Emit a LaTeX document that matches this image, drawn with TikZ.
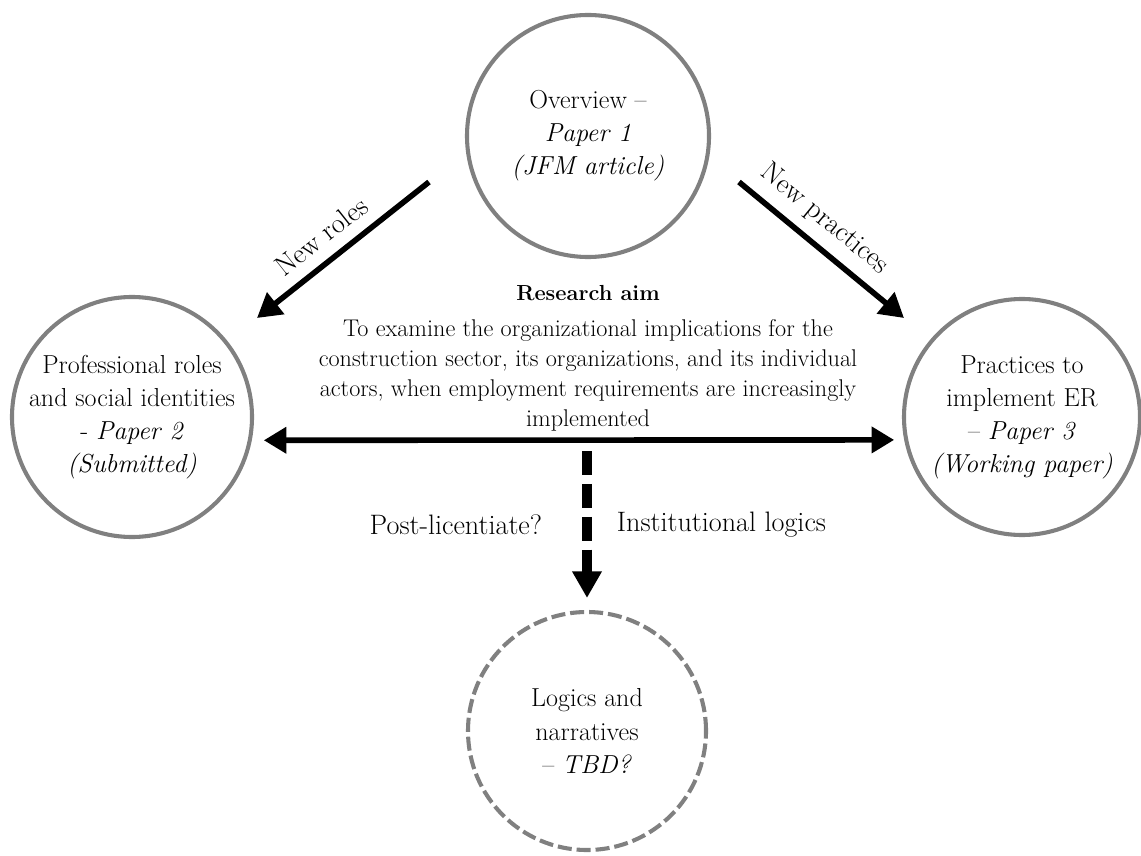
\documentclass[tikz,border=0pt]{standalone}
\usepackage{tikz}
\usetikzlibrary{arrows.meta,positioning}
\definecolor{ringgray}{RGB}{128,128,128}

\begin{document}
\begin{tikzpicture}[
  paper/.style={circle, draw=ringgray, line width=2.9pt, inner sep=0pt, align=center, font=\fontsize{18.5}{23.5}\selectfont},
  flow/.style={line width=4pt, -{Triangle[length=17pt,width=19pt]}},
  lbl/.style={font=\fontsize{20}{22}\selectfont}
]
\useasboundingbox (0,0) rectangle (28.525,21.375);

% Papers
\node[paper, minimum size=6.05cm] (overview) at (14.7,17.975) {Overview --\\\textit{Paper 1}\\\textit{(JFM article)}};
\node[paper, minimum size=6cm] (roles) at (3.3,10.95) {Professional roles\\and social identities\\- \textit{Paper 2}\\\textit{(Submitted)}};
\node[paper, minimum size=5.9cm] (practices) at (25.55,10.95) {Practices to\\implement ER\\-- \textit{Paper 3}\\\textit{(Working paper)}};
\node[paper, minimum size=5.95cm, dash pattern=on 10pt off 3.5pt] (logics) at (14.675,3.1) {Logics and\\narratives\\-- \textit{TBD?}};

% Research aim
\node[font=\fontsize{15.5}{18}\selectfont\bfseries] (aimtitle) at (14.7,14.05) {Research aim};
\node[align=center, font=\fontsize{17.2}{21.3}\selectfont] (aimtext) at (14.7,12.0) {To examine the organizational implications for the\\construction sector, its organizations, and its individual\\actors, when employment requirements are increasingly\\implemented};

% New roles / new practices
\coordinate (rolesA) at (10.725,16.825);
\coordinate (rolesB) at (6.425,13.425);
\coordinate (pracA) at (18.475,16.825);
\coordinate (pracB) at (22.6,13.425);
\draw[flow] (rolesA) -- (rolesB) node[lbl, pos=0.54, sloped, above=5pt] (rolestxt) {New roles};
\draw[flow] (pracA) -- (pracB) node[lbl, pos=0.42, sloped, above=4pt] (practxt) {New practices};

% Link between papers 2 and 3
\draw[line width=4pt, {Triangle[length=16pt,width=18pt]}-{Triangle[length=16pt,width=18pt]}, shorten <=0.3cm, shorten >=0.25cm] (roles.-11) -- (practices.191);

% Towards the next paper
\coordinate (nextA) at (14.675,10.1);
\draw[line width=6.5pt, dash pattern=on 17pt off 6.4pt, -{Triangle[length=19pt,width=20pt]}, shorten >=0.3cm] (nextA) -- (logics.north);
\node[lbl, anchor=east] (postlic) at (13.675,8.25) {Post-licentiate?};
\node[lbl, anchor=west] (instlog) at (15.3,8.25) {Institutional logics};
\end{tikzpicture}
\end{document}
